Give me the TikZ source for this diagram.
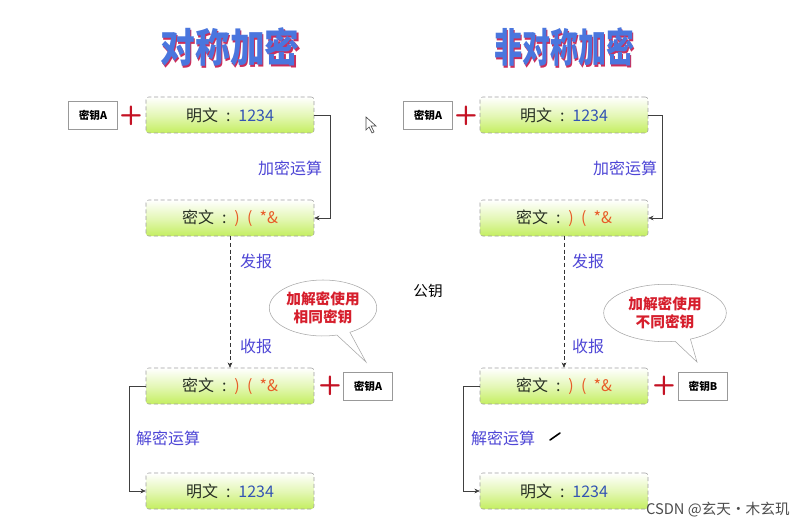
\documentclass[tikz,border=0pt]{standalone}
\usepackage{fontspec}
\usepackage{graphicx}
\newfontfamily\cjk{Noto Sans CJK SC}
\usetikzlibrary{shapes.callouts,arrows.meta}

\definecolor{boxgreen}{RGB}{196,238,96}
\definecolor{boxtext}{RGB}{40,48,36}
\definecolor{numblue}{RGB}{52,84,180}
\definecolor{symorange}{RGB}{232,92,40}
\definecolor{opblue}{RGB}{78,70,214}
\definecolor{bubblered}{RGB}{214,30,44}
\definecolor{plusred}{RGB}{196,18,36}
\definecolor{titleblue}{RGB}{74,118,222}
\definecolor{titleshadow}{RGB}{204,46,90}

\tikzset{
  msgbox/.style={draw=gray!75, densely dashed, rounded corners=2pt, minimum width=126pt,
    minimum height=27pt, top color=white, bottom color=boxgreen, middle color=white!55!boxgreen,
    text=boxtext, font=\cjk\fontsize{12}{14}\selectfont},
  keybox/.style={draw=gray!80, fill=white, minimum width=37pt, minimum height=21pt, inner sep=1pt,
    font=\cjk\bfseries\fontsize{8}{9}\selectfont},
  plussign/.style={text=plusred, inner sep=0pt, font=\sffamily\bfseries\fontsize{20}{20}\selectfont},
  oplabel/.style={text=opblue, inner sep=1pt, font=\cjk\fontsize{12}{14}\selectfont},
  bubble/.style={ellipse callout, draw=gray!70, fill=white, align=center, inner sep=1pt,
    text=bubblered, font=\cjk\bfseries\fontsize{11}{13.5}\selectfont},
  titletext/.style={text=titleblue, inner sep=0pt, font=\cjk\bfseries\fontsize{30}{32}\selectfont},
  titleback/.style={text=titleshadow, inner sep=0pt, font=\cjk\bfseries\fontsize{30}{32}\selectfont},
  flow/.style={draw=gray!50!black, -{Stealth[length=4pt,width=3.5pt]}},
  send/.style={draw=gray!40!black, densely dashed, -{Stealth[length=4pt,width=3.5pt]}},
}
\newcommand{\plaintxt}{明文\enspace:\enspace\textcolor{numblue}{1234}}
\newcommand{\ciphertxt}{密文\enspace:\enspace\textcolor{symorange}{)\ \ (\ \ *\&}}

\begin{document}
\begin{tikzpicture}[x=0.75pt,y=0.75pt,yscale=-1,xscale=1]
	\useasboundingbox[fill=white] (0,0) rectangle (804,528);
	
	% symmetric: titles
	\node[titleback] (t1s) at (231.5,48.5) {\scalebox{0.87}[1]{对称加密}};
	\node[titletext] (t1) at (230,47) {\scalebox{0.87}[1]{对称加密}};
	
	% symmetric: encrypt
	\node[keybox] (ka1) at (93,115) {密钥A};
	\node[plussign] (p1) at (131,116) {+};
	\node[msgbox] (m1) at (230,115) {\plaintxt};
	\node[msgbox] (c1) at (230,218) {\ciphertxt};
	\draw[flow] (m1.east) -- ++(16,0) |- (c1.east);
	\node[oplabel] (e1) at (290,168) {加密运算};
	
	% symmetric: send / receive
	\node[msgbox] (c2) at (230,386) {\ciphertxt};
	\draw[send] (c1.south) -- (c2.north);
	\node[oplabel] (s1) at (256,261) {发报};
	\node[oplabel] (r1) at (256,346) {收报};
	\node[bubble, minimum width=70pt, minimum height=42pt, callout absolute pointer={(366,362)}] (b1) at (323,308) {加解密使用\\相同密钥};
	
	% symmetric: decrypt
	\node[plussign] (p2) at (330,386) {+};
	\node[keybox] (ka2) at (368,386) {密钥A};
	\node[msgbox] (m2) at (230,491) {\plaintxt};
	\draw[flow] (c2.west) -- ++(-16,0) |- (m2.west);
	\node[oplabel] (d1) at (168,438) {解密运算};
	
	% asymmetric: titles
	\node[titleback] (t2s) at (565.5,48.5) {\scalebox{0.7}[1]{非对称加密}};
	\node[titletext] (t2) at (564,47) {\scalebox{0.7}[1]{非对称加密}};
	
	% asymmetric: encrypt
	\node[keybox] (kb1) at (428,115) {密钥A};
	\node[plussign] (p3) at (466,116) {+};
	\node[msgbox] (m3) at (564,115) {\plaintxt};
	\node[msgbox] (c3) at (564,218) {\ciphertxt};
	\draw[flow] (m3.east) -- ++(14,0) |- (c3.east);
	\node[oplabel] (e2) at (625,168) {加密运算};
	
	% asymmetric: send / receive
	\node[msgbox] (c4) at (564,386) {\ciphertxt};
	\draw[send] (c3.south) -- (c4.north);
	\node[oplabel] (s2) at (588,261) {发报};
	\node[oplabel] (r2) at (588,346) {收报};
	\node[bubble, minimum width=92pt, minimum height=43pt, callout absolute pointer={(697,362)}] (b2) at (665,313) {加解密使用\\不同密钥};
	
	% asymmetric: decrypt
	\node[plussign] (p4) at (664,386) {+};
	\node[keybox] (kb2) at (703,386) {密钥B};
	\node[msgbox] (m4) at (564,491) {\plaintxt};
	\draw[flow] (c4.west) -- ++(-16,0) |- (m4.west);
	\node[oplabel] (d2) at (503,438) {解密运算};
	
	% loose marks
	\node[font=\cjk\fontsize{11}{13}\selectfont, inner sep=0pt] (pk) at (428,291) {公钥};
	\draw[line width=1.2pt, line cap=round] (550,440) -- (560,433);
	\draw[draw=gray!60!black, fill=white, line width=0.5pt] (366,117) -- (366,130) -- (369,127) -- (372,133) -- (374,132) -- (371,126) -- (376,126) -- cycle;
	\node[text=gray!60!black, anchor=east, inner sep=0pt, font=\cjk\fontsize{11}{13}\selectfont] (wm) at (790,510) {CSDN @玄天·木玄玑};
	
\end{tikzpicture}
\end{document}
